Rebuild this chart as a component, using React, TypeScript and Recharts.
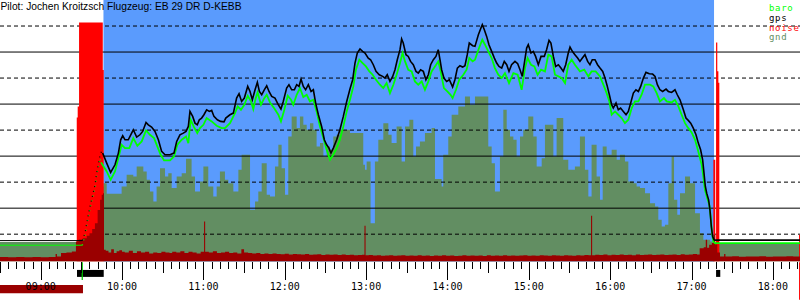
import React from "react";
import { ComposedChart, XAxis, YAxis, Area, Line, ReferenceLine, ReferenceArea } from "recharts";

// times are minutes after midnight, altitudes in feet

const T_START = 510; // 08:30
const T_END = 1100; // 18:20
const TAKEOFF = 586.3;
const LANDING = 1036.6;
const ALT_MIN = -25;
const ALT_MAX = 5000;

const SOLID_LEVELS = [1000, 2000, 3000, 4000];
const DASHED_LEVELS = [500, 1500, 2500, 3500, 4500];
const ALT_LABELS = [1000, 2000, 3000, 4000];

const LEGEND = [
  { name: "baro", color: "#00ff00" },
  { name: "gps", color: "#000000" },
  { name: "noise", color: "#ff0000" },
  { name: "gnd", color: "#628e62" },
];

const PRE_GPS: [number, number][] = [[510, 377], [570.7, 377]];
const PRE_BARO: [number, number][] = [[510, 288], [570.7, 288]];

const TOW_GPS: [number, number][] = [
  [570.7, 377], [572.7, 523], [574.4, 779], [576.4, 1035], [578.4, 1260], [580.1, 1452],
  [581.3, 1677], [582.5, 1837], [583.8, 2029], [585.0, 2092], [585.7, 2060],
];
const TOW_BARO: [number, number][] = [
  [570.7, 288], [572.7, 470], [574.4, 730], [576.4, 990], [578.4, 1210], [580.1, 1400],
  [581.3, 1620], [582.5, 1790], [583.8, 1960], [584.5, 1880],
];

const GPS: [number, number][] = [
  [585.7, 2060], [588.7, 1865], [591.6, 1686], [594.8, 1833], [597.3, 2058], [599.0, 2314],
  [600.5, 2391], [602.2, 2314], [604.6, 2314], [608.3, 2506], [610.8, 2365], [613.2, 2410],
  [615.2, 2474], [617.7, 2647], [619.4, 2602], [621.8, 2558], [624.3, 2474], [626.8, 2314],
  [629.2, 2090], [631.7, 2026], [635.4, 2026], [638.3, 2058], [640.3, 2282], [642.7, 2410],
  [645.2, 2442], [647.2, 2474], [648.9, 2570], [650.1, 2859], [652.1, 2763], [653.8, 2634],
  [655.5, 2602], [657.0, 2699], [658.7, 2731], [660.4, 2795], [662.4, 2891], [664.4, 2859],
  [666.1, 2878], [667.8, 2763], [670.3, 2699], [672.7, 2667], [675.2, 2660], [676.5, 2731],
  [679.6, 2795], [682.1, 2827], [684.5, 3115], [686.3, 3199], [688.2, 3051], [690.2, 3115],
  [692.7, 3340], [694.4, 3243], [696.1, 3083], [698.1, 3275], [699.8, 3417], [701.3, 3243],
  [703.0, 3179], [704.9, 3275], [706.7, 3352], [708.4, 3243], [710.4, 3147], [712.8, 3115],
  [715.3, 2987], [717.2, 2904], [718.9, 3051], [721.4, 3308], [723.1, 3372], [725.1, 3275],
  [727.1, 3275], [728.8, 3372], [730.5, 3340], [732.0, 3481], [733.7, 3340], [735.4, 3275],
  [737.4, 3372], [739.4, 3243], [741.1, 3275], [742.8, 3019], [744.8, 2795], [747.2, 2570],
  [749.2, 2314], [750.9, 2218], [752.6, 2154], [754.1, 2058], [755.8, 2154], [758.3, 2314],
  [760.7, 2506], [763.2, 2763], [765.7, 3051], [768.1, 3290], [770.1, 3468], [771.8, 3788],
  [773.5, 3981], [775.5, 4058], [777.4, 4013], [779.2, 3981], [781.6, 3884], [783.3, 3852],
  [785.3, 3756], [787.3, 3628], [789.7, 3564], [792.2, 3532], [793.9, 3500], [795.6, 3564],
  [797.6, 3436], [799.6, 3532], [801.3, 3660], [803.0, 3852], [805.0, 4045], [806.2, 4250],
  [807.4, 4173], [809.4, 3949], [811.1, 3916], [812.8, 3820], [814.8, 3756], [816.8, 3628],
  [818.5, 3596], [820.2, 3660], [822.2, 3628], [824.1, 3468], [825.9, 3564], [827.6, 3756],
  [829.6, 3852], [831.5, 3916], [833.2, 4045], [834.5, 3852], [835.7, 3660], [837.4, 3500],
  [839.4, 3436], [841.4, 3468], [843.8, 3327], [845.5, 3468], [847.3, 3692], [849.2, 3737],
  [851.2, 3711], [852.9, 3737], [854.6, 3949], [856.1, 4173], [858.6, 4122], [860.3, 4109],
  [862.8, 4333], [864.7, 4461], [865.7, 4525], [867.2, 4429], [868.9, 4301], [870.6, 4141],
  [872.6, 4013], [874.6, 3884], [876.3, 3788], [878.0, 3724], [880.0, 3692], [881.9, 3820],
  [883.7, 3756], [885.4, 3628], [887.3, 3756], [889.8, 3820], [891.8, 3775], [893.5, 3660],
  [895.2, 3532], [896.7, 3788], [898.4, 4077], [899.6, 4141], [901.6, 3981], [903.3, 4013],
  [905.0, 3916], [907.0, 3756], [909.0, 3916], [911.4, 3916], [913.1, 4045], [914.9, 4224],
  [916.3, 4173], [918.1, 3916], [919.8, 3724], [921.8, 3756], [923.7, 3692], [925.4, 3628],
  [927.2, 3756], [929.1, 3981], [930.4, 4096], [932.1, 4013], [934.0, 3949], [936.0, 3884],
  [937.7, 3820], [939.5, 3884], [941.4, 3949], [943.4, 3820], [945.1, 3756], [946.8, 3852],
  [948.8, 3852], [950.7, 3756], [952.5, 3692], [954.5, 3628], [956.2, 3500], [957.9, 3340],
  [959.4, 3179], [961.1, 2987], [962.3, 2923], [964.3, 3019], [966.0, 2891], [967.7, 2923],
  [969.7, 2859], [971.7, 2795], [973.4, 2859], [975.1, 3019], [977.1, 3211], [979.0, 3275],
  [980.8, 3243], [982.5, 3340], [984.5, 3500], [986.4, 3609], [988.9, 3583], [991.3, 3577],
  [993.1, 3532], [994.8, 3372], [996.7, 3275], [998.7, 3243], [1001.2, 3288], [1002.9, 3243],
  [1005.3, 3224], [1007.8, 3275], [1009.5, 3179], [1011.5, 3083], [1014.0, 2891], [1015.9, 2731],
  [1017.6, 2686], [1019.4, 2634], [1021.3, 2538], [1023.3, 2410], [1025.0, 2250], [1026.7, 2122],
  [1028.2, 1929], [1029.2, 1673], [1030.2, 1417], [1031.2, 1288], [1032.6, 1160], [1033.6, 968],
  [1034.6, 647], [1035.6, 455], [1036.6, 391], [1037.5, 385], [1100, 385],
];

const BARO: [number, number][] = [
  [584.5, 1880], [588.7, 1705], [591.6, 1545], [594.8, 1705], [597.3, 1961], [599.7, 2218],
  [602.2, 2154], [605.4, 2154], [608.3, 2346], [611.3, 2199], [614.5, 2282], [617.7, 2493],
  [620.6, 2410], [623.6, 2346], [626.0, 2186], [628.5, 2026], [631.0, 1917], [635.4, 1917],
  [638.3, 1994], [640.8, 2218], [644.0, 2314], [647.2, 2378], [648.9, 2250], [650.6, 2699],
  [653.1, 2558], [655.5, 2442], [657.5, 2538], [660.0, 2602], [662.4, 2731], [666.1, 2667],
  [669.8, 2583], [673.5, 2538], [675.9, 2538], [679.6, 2634], [683.3, 2827], [685.3, 2955],
  [687.7, 2891], [690.2, 2987], [692.7, 3160], [695.1, 3051], [696.8, 2904], [698.6, 3115],
  [700.0, 3224], [702.5, 2987], [704.9, 3115], [706.7, 3179], [709.1, 3032], [711.6, 2942],
  [715.3, 2795], [717.2, 2667], [719.7, 2891], [722.2, 3160], [724.6, 3083], [726.3, 2987],
  [728.8, 3179], [731.2, 3308], [733.7, 3134], [736.2, 3179], [738.6, 3051], [741.1, 3083],
  [743.5, 2859], [746.0, 2570], [748.5, 2346], [750.9, 2122], [753.4, 1929], [755.8, 2026],
  [758.3, 2154], [760.7, 2314], [763.2, 2570], [765.7, 2859], [768.1, 3083], [770.6, 3340],
  [772.5, 3660], [775.0, 3852], [777.4, 3788], [779.9, 3724], [782.4, 3628], [784.8, 3564],
  [787.3, 3468], [790.2, 3372], [792.7, 3308], [795.1, 3404], [797.6, 3211], [800.1, 3372],
  [802.5, 3564], [805.0, 3788], [806.9, 3981], [808.7, 3820], [811.1, 3660], [813.6, 3628],
  [816.0, 3436], [818.5, 3372], [821.0, 3436], [823.4, 3275], [825.9, 3436], [828.3, 3628],
  [830.8, 3724], [833.2, 3820], [835.0, 3628], [837.4, 3308], [839.9, 3243], [842.3, 3179],
  [843.8, 3115], [846.3, 3275], [848.7, 3468], [851.7, 3564], [854.1, 3660], [856.1, 3884],
  [858.6, 3820], [860.3, 3852], [863.3, 4077], [865.7, 4237], [867.7, 4141], [870.1, 4013],
  [872.6, 3884], [875.0, 3692], [877.5, 3564], [880.0, 3500], [882.4, 3596], [885.4, 3404],
  [888.6, 3596], [891.8, 3564], [894.7, 3275], [897.2, 3692], [899.1, 3884], [901.6, 3756],
  [904.1, 3724], [906.5, 3564], [909.0, 3660], [911.9, 3628], [914.4, 3949], [916.8, 3916],
  [919.3, 3564], [921.8, 3532], [924.2, 3500], [926.7, 3404], [929.1, 3756], [931.6, 3852],
  [934.0, 3756], [937.7, 3628], [940.9, 3660], [943.9, 3532], [946.3, 3628], [949.3, 3628],
  [952.5, 3532], [955.5, 3340], [957.4, 3211], [959.4, 3051], [961.1, 2795], [963.6, 2859],
  [966.0, 2795], [968.5, 2731], [970.9, 2634], [973.4, 2699], [975.9, 2923], [978.3, 3051],
  [980.8, 3051], [983.2, 3179], [985.7, 3372], [989.4, 3372], [991.8, 3340], [994.3, 3211],
  [996.7, 3051], [999.7, 3115], [1001.7, 3051], [1005.3, 3032], [1007.8, 3083], [1010.3, 2955],
  [1012.7, 2795], [1015.2, 2634], [1017.6, 2538], [1020.1, 2455], [1022.6, 2314], [1025.0, 2090],
  [1027.5, 1833], [1028.7, 1609], [1029.9, 1352], [1031.6, 1192], [1033.1, 1064], [1034.1, 840],
  [1035.1, 519], [1036.1, 359], [1037.3, 327], [1100, 327],
];

// terrain elevation under the track (steps)
const GND: [number, number][] = [
  [510, 352], [584.5, 1417], [586.2, 1480], [588.7, 1275], [599.7, 1417], [603.4, 1640],
  [608.3, 1609], [610.8, 1800], [615.7, 1705], [618.2, 1545], [620.6, 1320], [623.1, 1128],
  [625.5, 1417], [628.0, 1769], [631.7, 1609], [634.1, 1673], [636.6, 1385], [640.3, 1609],
  [644.0, 1673], [647.2, 1950], [651.3, 1609], [653.8, 1320], [657.5, 1513], [660.0, 1800],
  [663.6, 1417], [667.3, 1224], [669.8, 1417], [672.2, 1705], [675.9, 1545], [678.4, 1480],
  [682.1, 1320], [685.8, 1737], [688.2, 2026], [694.4, 968], [698.1, 1128], [700.5, 1320],
  [703.0, 1865], [706.7, 1256], [709.1, 1224], [712.8, 1800], [715.3, 2218], [717.7, 1769],
  [720.2, 1256], [722.6, 2378], [725.1, 2763], [728.8, 2538], [731.2, 2763], [733.7, 2603],
  [736.2, 2506], [738.6, 2634], [741.1, 2506], [743.5, 2186], [746.0, 2250], [748.5, 1993],
  [750.9, 2186], [753.4, 2122], [755.8, 2378], [758.3, 2410], [760.7, 2506], [768.1, 2442],
  [777.9, 1833], [779.2, 1737], [780.4, 1897], [783.3, 711], [786.5, 1897], [789.0, 2314],
  [792.7, 2634], [796.4, 2410], [798.8, 2250], [802.5, 2570], [806.2, 1897], [808.7, 2570],
  [811.9, 2699], [814.8, 1993], [816.8, 2186], [819.7, 2282], [823.4, 2442], [828.3, 2538],
  [830.8, 1558], [835.7, 1417], [836.9, 2026], [840.6, 2378], [843.1, 2795], [848.0, 2955],
  [852.9, 3147], [856.6, 2987], [860.3, 3147], [870.1, 2186], [872.6, 1865], [875.0, 1320],
  [878.7, 1993], [881.2, 2891], [883.7, 2506], [886.1, 2378], [888.6, 2314], [891.0, 1993],
  [893.5, 2378], [895.9, 2506], [899.6, 2763], [903.3, 2378], [905.8, 1801], [909.5, 1961],
  [911.9, 2603], [918.1, 1993], [920.5, 2731], [925.4, 1929], [929.1, 1737], [934.0, 1801],
  [937.7, 2378], [941.4, 1737], [943.9, 1224], [946.3, 2218], [950.0, 1609], [952.5, 1160],
  [954.5, 2186], [957.4, 2026], [961.1, 2122], [964.8, 1929], [967.2, 2026], [970.9, 1897],
  [973.4, 1513], [977.1, 1480], [979.5, 1417], [982.0, 1385], [985.7, 1288], [989.4, 1096],
  [993.1, 1032], [995.5, 776], [998.0, 647], [1000.4, 679], [1002.9, 1480], [1005.3, 1994],
  [1007.1, 1160], [1009.5, 872], [1011.5, 1288], [1015.2, 1609], [1018.9, 1480], [1022.6, 904],
  [1026.2, 519], [1028.7, 391], [1033.6, 359], [1037.3, 327], [1100, 327],
];

// engine noise, full red bars
const ENGINE: [number, number][] = [
  [510, ALT_MIN], [566.6, 2740], [567.3, 2952], [568.3, 4567], [585.8, 3656], [586.5, ALT_MIN],
  [1036.1, 1930], [1037.5, ALT_MIN], [1038.1, 4183], [1039.0, 3630], [1039.8, 3408], [1040.5, ALT_MIN],
  [1099.3, 487], [1100, 487],
];

// noise level, dark red band at the bottom
const NOISE: [number, number][] = [
  [510, 60], [516, 55], [522, 62], [528, 58], [534, 60], [540, 56], [546, 62], [551, 120],
  [552, 70], [555, 140], [559, 150], [563, 165], [566, 358], [568, 400], [571, 423], [574, 470],
  [576, 519], [578, 600], [580, 711], [582, 967], [583.8, 1160], [585, 1256], [586, 1288],
  [586.7, 200], [588, 180], [590, 150], [592, 210], [594, 140], [596, 170], [598, 190],
  [600, 160], [602, 150], [605, 180], [608, 140], [611, 170], [614, 150], [617, 160], [620, 130],
  [623, 150], [626, 140], [629, 160], [632, 150], [635, 140], [637, 160], [640, 150], [643, 170],
  [646, 140], [649, 160], [652, 150], [655, 130], [658, 160], [660.5, 742], [661.3, 160],
  [664, 150], [667, 170], [670, 140], [673, 150], [676, 160], [679, 140], [682, 150], [685, 130],
  [688, 211], [690, 150], [693, 140], [696, 130], [699, 140], [702, 120], [705, 130], [708, 120],
  [711, 130], [714, 120], [717, 115], [720, 125], [723, 110], [726, 120], [729, 115], [732, 110],
  [735, 120], [738, 105], [741, 110], [744, 115], [747, 100], [750, 110], [753, 105], [756, 110],
  [759, 100], [762, 110], [765, 100], [768, 105], [771, 95], [774, 100], [777, 105], [778.8, 660],
  [779.6, 95], [782, 100], [785, 90], [788, 95], [791, 85], [794, 90], [797, 95], [800, 85],
  [803, 90], [806, 95], [809, 85], [812, 90], [815, 85], [818, 95], [821, 85], [824, 90],
  [827, 80], [830, 90], [833, 85], [836, 95], [839, 85], [842, 90], [845, 80], [848, 85],
  [851, 95], [854, 85], [857, 90], [860, 85], [863, 90], [866, 80], [869, 95], [872, 85],
  [875, 90], [878, 85], [881, 95], [884, 85], [887, 90], [890, 85], [893, 90], [896, 95],
  [899, 85], [902, 90], [905, 85], [908, 95], [911, 90], [914, 85], [917, 95], [920, 90],
  [923, 85], [926, 95], [929, 90], [932, 85], [935, 95], [938, 90], [941, 100], [944, 95],
  [945.9, 852], [946.7, 95], [949, 105], [952, 100], [955, 110], [958, 95], [961, 105], [964, 100],
  [967, 110], [970, 100], [973, 105], [976, 95], [979, 110], [982, 100], [985, 105], [988, 110],
  [991, 100], [994, 105], [997, 110], [1000, 100], [1003, 105], [1006, 110], [1009, 100],
  [1012, 115], [1015, 105], [1018, 110], [1021, 120], [1024, 110], [1026, 230], [1029, 250],
  [1030.5, 391], [1031.5, 240], [1033, 295], [1035, 330], [1036, 487], [1037.5, 300], [1039, 150],
  [1041, 70], [1044, 121], [1045, 70], [1050, 75], [1055, 68], [1060, 72], [1065, 70], [1070, 75],
  [1075, 68], [1080, 72], [1085, 70], [1090, 75], [1095, 70], [1100, 70],
];

// markers under the time axis
const TIME_MARKS: { t1: number; t2: number; y1: number; y2: number; fill: string }[] = [
  { t1: 510, t2: 571.2, y1: -475, y2: -635, fill: "#9a0000" },
  { t1: 566.8, t2: 586.5, y1: -187, y2: -321, fill: "#000000" },
  { t1: 570.2, t2: 571.1, y1: -40, y2: -379, fill: "#00cc00" },
  { t1: 1038.1, t2: 1041.2, y1: -187, y2: -321, fill: "#000000" },
  { t1: 1099.3, t2: 1100, y1: -40, y2: -760, fill: "#ff0000" },
];

const TICK_STEP = 6;
const X_TICKS: number[] = [];
for (let m = T_START; m < T_END; m += TICK_STEP) X_TICKS.push(m);

const MONO = "'DejaVu Sans Mono', monospace";
const BLUE = "#5a9bfd";
const GND_FILL = "#628e62";

const pts = (a: [number, number][]) => a.map(([t, v]) => ({ t, v }));

function hhmm(m: number) {
  const h = Math.floor(m / 60);
  const mm = m % 60;
  return `${String(h).padStart(2, "0")}:${String(mm).padStart(2, "0")}`;
}

function TimeTick(props: any) {
  const { x, y, payload } = props;
  const m = payload.value as number;
  const len = m % 60 === 0 ? 18 : m % 30 === 0 ? 11 : 7;
  const px = Math.round(x) + 0.5;
  return (
    <g>
      <line x1={px} y1={y + 0.5} x2={px} y2={y + 0.5 + len} stroke="#000" strokeWidth={1} />
      {m % 60 === 0 && (
        <text x={x} y={y + 28.5} textAnchor="middle" fontFamily={MONO} fontSize={10} fill="#000">
          {hhmm(m)}
        </text>
      )}
    </g>
  );
}

function AltTick(props: any) {
  const { y, payload } = props;
  return (
    <text x={0} y={y + 11} textAnchor="start" fontFamily={MONO} fontSize={10} fill="#000">
      {payload.value}
    </text>
  );
}

const lineProps = { dot: false, activeDot: false, isAnimationActive: false, zIndex: 60 } as const;
const areaProps = { type: "stepAfter", fillOpacity: 1, stroke: "none", baseValue: ALT_MIN, dot: false, activeDot: false, isAnimationActive: false } as const;

export default function App() {
  return (
    <div style={{ position: "absolute", left: 0, top: 0, width: 800, height: 300, background: "#fff" }}>
      <ComposedChart width={800} height={300} margin={{ top: 0, right: 0, bottom: 0, left: 0 }}>
        <XAxis
          dataKey="t" type="number" domain={[T_START, T_END]} allowDataOverflow
          ticks={X_TICKS} interval={0} height={38.5} tickSize={0} tickMargin={0}
          axisLine={false} tickLine={false} tick={<TimeTick />}
        />
        <YAxis
          type="number" domain={[ALT_MIN, ALT_MAX]} allowDataOverflow ticks={ALT_LABELS}
          width={0} tickSize={0} tickMargin={0} axisLine={false} tickLine={false} tick={<AltTick />}
        />
        <ReferenceArea x1={TAKEOFF} x2={LANDING} y1={ALT_MIN} y2={ALT_MAX} fill={BLUE} fillOpacity={1} stroke="none" zIndex={10} />
        <Area data={pts(GND)} dataKey="v" fill={GND_FILL} {...areaProps} zIndex={20} />
        {SOLID_LEVELS.map((v) => (
          <ReferenceLine key={v} y={v} stroke="#000" strokeWidth={1} zIndex={30} />
        ))}
        {DASHED_LEVELS.map((v) => (
          <ReferenceLine key={v} y={v} stroke="#000" strokeWidth={1} strokeDasharray="4 3" zIndex={30} />
        ))}
        <Area data={pts(ENGINE)} dataKey="v" fill="#ff0000" {...areaProps} zIndex={40} />
        <Area data={pts(NOISE)} dataKey="v" fill="#9a0000" {...areaProps} zIndex={50} />
        <Line data={pts(PRE_BARO)} dataKey="v" stroke="#00ff00" strokeWidth={1} {...lineProps} />
        <Line data={pts(PRE_GPS)} dataKey="v" stroke="#000" strokeWidth={1} {...lineProps} />
        <Line data={pts(TOW_BARO)} dataKey="v" stroke="#00ff00" strokeWidth={1.2} strokeDasharray="1 4" {...lineProps} />
        <Line data={pts(TOW_GPS)} dataKey="v" stroke="#000" strokeWidth={1.2} strokeDasharray="1 4" {...lineProps} />
        <Line data={pts(BARO)} dataKey="v" stroke="#00ff00" strokeWidth={1.8} {...lineProps} />
        <Line data={pts(GPS)} dataKey="v" stroke="#000" strokeWidth={1.6} {...lineProps} />
        {TIME_MARKS.map((m, i) => (
          <ReferenceArea key={i} x1={m.t1} x2={m.t2} y1={m.y1} y2={m.y2} fill={m.fill} fillOpacity={1} stroke="none" ifOverflow="visible" zIndex={5} />
        ))}
      </ComposedChart>
      <svg width={800} height={300} style={{ position: "absolute", left: 0, top: 0, pointerEvents: "none" }}>
        <text x={0.5} y={10} fontFamily="'Liberation Sans', Arial, sans-serif" fontSize={10.25} fill="#000">
          Pilot: Jochen Kroitzsch Flugzeug: EB 29 DR D-KEBB
        </text>
        {LEGEND.map((l, i) => (
          <text key={l.name} x={769} y={[11, 20.5, 30.5, 40][i]} fontFamily={MONO} fontSize={9} letterSpacing={0.7} fill={l.color}>
            {l.name}
          </text>
        ))}
      </svg>
    </div>
  );
}
